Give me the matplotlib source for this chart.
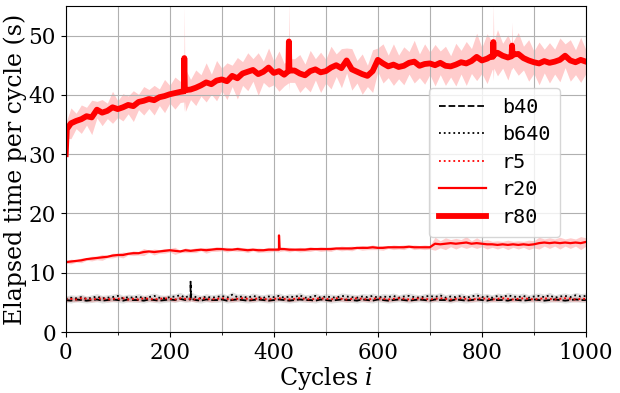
import numpy as np
import matplotlib
matplotlib.use('Agg')
import matplotlib.pyplot as plt
from matplotlib.ticker import MultipleLocator

CYCLES = list(range(0, 1001, 10))

R80 = [30.0, 35.2, 35.6, 35.9, 36.4, 36.2, 37.5, 37.0, 37.3, 37.9,
       37.6, 37.9, 38.3, 38.1, 38.8, 39.0, 39.3, 39.1, 39.6, 39.8,
       40.1, 40.3, 40.5, 40.8, 40.9, 41.2, 41.6, 42.1, 41.8, 42.4,
       42.6, 42.3, 43.2, 42.8, 43.6, 43.9, 44.2, 43.5, 43.9, 44.6,
       43.7, 44.0, 43.4, 44.2, 44.1, 43.6, 43.3, 44.0, 44.3, 43.8,
       44.0, 44.6, 45.0, 44.5, 45.8, 44.3, 43.9, 43.5, 43.2, 44.0,
       45.9, 45.3, 44.8, 45.1, 44.7, 44.9, 45.4, 45.6, 44.9, 45.2,
       45.3, 45.0, 45.4, 44.9, 44.8, 45.1, 45.5, 45.3, 45.7, 46.4,
       45.8, 46.1, 46.6, 47.1, 46.6, 46.3, 46.8, 46.9, 46.2, 45.8,
       45.5, 45.3, 45.7, 45.4, 45.6, 45.9, 46.6, 45.8, 45.5, 45.9,
       45.6]
R80_STD = [1.0, 2.6, 1.3, 2.4, 1.5, 2.9, 1.4, 2.2, 1.3, 2.7,
           1.4, 2.3, 1.5, 2.6, 1.3, 2.4, 1.6, 2.5, 1.4, 2.8,
           1.5, 2.7, 1.8, 3.6, 1.7, 3.0, 1.8, 3.3, 1.7, 3.4,
           1.9, 3.1, 1.8, 3.5, 2.0, 3.2, 1.9, 3.6, 1.8, 3.3,
           2.0, 3.4, 1.9, 3.6, 2.0, 3.2, 1.9, 3.5, 1.8, 3.4,
           2.0, 3.6, 1.9, 3.3, 2.1, 3.5, 1.9, 3.4, 1.8, 3.6,
           2.0, 3.3, 1.9, 3.5, 2.0, 3.2, 1.9, 3.6, 2.0, 3.4,
           1.9, 3.5, 2.0, 3.3, 1.8, 3.6, 2.0, 3.7, 2.1, 4.0,
           2.2, 4.2, 2.3, 3.9, 2.1, 3.8, 2.2, 3.6, 2.0, 3.5,
           1.9, 3.6, 2.0, 3.4, 2.1, 3.7, 2.0, 3.5, 2.1, 3.8,
           2.0]
# narrow single-cycle excursions of r80
R80_EXTRA_CYCLES = [2, 227, 228, 229, 428, 429, 430, 821, 822, 823, 857, 858, 859]
R80_EXTRA = [34.2, 40.6, 46.2, 40.7, 44.0, 49.0, 44.1, 46.4, 48.9, 46.7, 46.5, 48.3, 46.7]
R80_EXTRA_STD = [1.5, 1.8, 9.0, 1.8, 2.0, 7.0, 2.0, 2.2, 6.5, 2.2, 2.1, 4.0, 2.1]

R20 = [11.8, 11.9, 12.0, 12.1, 12.3, 12.4, 12.5, 12.6, 12.7, 12.9,
       13.0, 13.0, 13.2, 13.3, 13.3, 13.5, 13.6, 13.5, 13.6, 13.7,
       13.8, 13.7, 13.6, 13.8, 13.7, 13.8, 13.9, 13.8, 13.9, 14.0,
       14.0, 13.9, 13.9, 14.0, 13.9, 13.8, 13.9, 13.8, 13.8, 13.9,
       13.9, 13.9, 14.0, 13.9, 13.9, 13.9, 13.9, 14.0, 14.0, 14.0,
       14.0, 14.0, 14.1, 14.1, 14.1, 14.1, 14.2, 14.2, 14.2, 14.3,
       14.2, 14.2, 14.3, 14.3, 14.3, 14.3, 14.4, 14.3, 14.3, 14.3,
       14.3, 14.9, 14.8, 14.9, 15.0, 14.9, 15.0, 15.1, 14.9, 15.0,
       14.9, 14.8, 14.8, 14.7, 14.8, 14.7, 14.8, 14.7, 14.8, 14.7,
       14.8, 15.0, 15.1, 15.0, 15.1, 15.0, 15.1, 15.0, 15.1, 15.0,
       15.2]
R20_STD = [0.2, 0.4, 0.2, 0.4, 0.2, 0.4, 0.3, 0.5, 0.2, 0.4,
           0.3, 0.5, 0.2, 0.4, 0.3, 0.6, 0.2, 0.5, 0.3, 0.4,
           0.3, 0.6, 0.2, 0.4, 0.3, 0.4, 0.2, 0.5, 0.3, 0.4,
           0.3, 0.4, 0.2, 0.4, 0.3, 0.4, 0.2, 0.4, 0.3, 0.4,
           0.3, 0.5, 0.3, 0.4, 0.2, 0.4, 0.3, 0.4, 0.2, 0.4,
           0.3, 0.4, 0.2, 0.4, 0.3, 0.4, 0.2, 0.4, 0.3, 0.4,
           0.3, 0.4, 0.2, 0.4, 0.3, 0.4, 0.2, 0.4, 0.3, 0.4,
           0.3, 1.1, 0.6, 1.0, 0.6, 0.9, 0.6, 1.0, 0.5, 0.9,
           0.5, 0.8, 0.5, 0.7, 0.5, 0.8, 0.5, 0.7, 0.5, 0.8,
           0.6, 1.0, 0.6, 0.9, 0.6, 1.0, 0.6, 0.9, 0.6, 1.1,
           0.7]
R20_EXTRA_CYCLES = [409, 410, 411]
R20_EXTRA = [13.9, 16.3, 14.0]
R20_EXTRA_STD = [0.4, 1.8, 0.4]

B40 = [5.4, 5.3, 5.5, 5.4, 5.3, 5.4, 5.5, 5.3, 5.4, 5.5,
       5.4, 5.3, 5.5, 5.4, 5.4, 5.3, 5.5, 5.4, 5.3, 5.4,
       5.5, 5.4, 5.6, 5.4, 5.5, 5.4, 5.3, 5.5, 5.4, 5.4,
       5.5, 5.3, 5.4, 5.5, 5.4, 5.3, 5.4, 5.5, 5.4, 5.3,
       5.4, 5.5, 5.4, 5.3, 5.4, 5.5, 5.4, 5.4, 5.3, 5.5,
       5.4, 5.3, 5.4, 5.5, 5.4, 5.4, 5.3, 5.5, 5.4, 5.3,
       5.5, 5.4, 5.3, 5.4, 5.5, 5.4, 5.3, 5.4, 5.5, 5.4,
       5.3, 5.5, 5.4, 5.4, 5.3, 5.5, 5.4, 5.3, 5.4, 5.5,
       5.4, 5.3, 5.5, 5.4, 5.4, 5.3, 5.5, 5.4, 5.3, 5.4,
       5.5, 5.4, 5.3, 5.4, 5.5, 5.4, 5.3, 5.4, 5.5, 5.4,
       5.4]
B40_EXTRA_CYCLES = [239, 240, 241]
B40_EXTRA = [5.5, 8.5, 5.6]
B40_STD = 0.4

B640 = [5.6, 5.8, 5.7, 5.9, 5.6, 5.8, 6.0, 5.7, 5.8, 5.9,
        6.1, 5.7, 5.9, 5.8, 6.0, 5.7, 5.9, 6.1, 5.8, 5.7,
        5.9, 6.0, 6.2, 5.8, 6.3, 5.9, 5.7, 6.0, 5.8, 5.9,
        6.1, 5.8, 6.3, 5.9, 6.0, 5.8, 6.1, 5.9, 5.8, 6.0,
        5.9, 6.1, 5.8, 6.0, 5.9, 6.2, 5.8, 5.9, 6.1, 5.8,
        6.0, 5.9, 5.8, 6.1, 6.0, 5.9, 5.8, 6.0, 5.9, 6.1,
        5.8, 6.0, 5.9, 6.1, 5.8, 6.0, 6.1, 5.9, 5.8, 6.0,
        6.1, 5.9, 6.2, 5.8, 6.0, 5.9, 6.1, 5.8, 6.0, 6.2,
        5.9, 6.0, 5.8, 6.1, 5.9, 6.2, 6.0, 5.9, 6.1, 5.8,
        6.0, 6.1, 5.9, 6.2, 5.8, 6.0, 6.1, 5.9, 6.2, 6.0,
        6.1]
B640_STD = 0.5

R5 = [5.5, 5.6, 5.5, 5.7, 5.6, 5.5, 5.6, 5.7, 5.5, 5.6,
      5.6, 5.7, 5.5, 5.6, 5.5, 5.7, 5.6, 5.5, 5.6, 5.7,
      5.6, 5.5, 5.7, 5.6, 5.6, 5.5, 5.7, 5.6, 5.5, 5.6,
      5.7, 5.6, 5.5, 5.6, 5.7, 5.6, 5.5, 5.7, 5.6, 5.5,
      5.6, 5.7, 5.6, 5.5, 5.6, 5.7, 5.6, 5.5, 5.6, 5.7,
      5.6, 5.5, 5.7, 5.6, 5.5, 5.6, 5.7, 5.6, 5.5, 5.6,
      5.7, 5.6, 5.5, 5.6, 5.7, 5.6, 5.5, 5.6, 5.7, 5.6,
      5.5, 5.6, 5.7, 5.6, 5.5, 5.6, 5.7, 5.6, 5.5, 5.6,
      5.7, 5.6, 5.5, 5.6, 5.7, 5.6, 5.5, 5.6, 5.7, 5.6,
      5.5, 5.6, 5.7, 5.6, 5.5, 5.6, 5.7, 5.6, 5.5, 5.6,
      5.6]
R5_STD = 0.4

plt.rcParams['font.family'] = 'DejaVu Serif'
plt.rcParams['mathtext.fontset'] = 'dejavuserif'

fig, ax = plt.subplots(figsize=(6.2, 3.93), dpi=100)
fig.subplots_adjust(left=0.106, right=0.945, bottom=0.155, top=0.985)


def merge(ys, std, extra_x=(), extra_y=(), extra_std=None):
    # put the single-cycle points in among the 10-cycle samples
    n = len(CYCLES)
    std = list(std) if np.ndim(std) else [std] * n
    if extra_std is None:
        extra_std = [std[0]] * len(extra_x)
    x = np.array(list(CYCLES) + list(extra_x), dtype=float)
    y = np.array(list(ys) + list(extra_y), dtype=float)
    s = np.array(std + list(extra_std), dtype=float)
    order = np.argsort(x, kind='stable')
    return x[order], y[order], s[order]


series = [
    (merge(B40, B40_STD, B40_EXTRA_CYCLES, B40_EXTRA), 'black', 0.12,
     dict(linestyle='--', linewidth=1.3, label='b40')),
    (merge(B640, B640_STD), 'black', 0.12,
     dict(linestyle=':', linewidth=1.3, label='b640')),
    (merge(R5, R5_STD), 'red', 0.15,
     dict(linestyle=':', linewidth=1.3, label='r5')),
    (merge(R20, R20_STD, R20_EXTRA_CYCLES, R20_EXTRA, R20_EXTRA_STD), 'red', 0.2,
     dict(linestyle='-', linewidth=1.6, label='r20')),
    (merge(R80, R80_STD, R80_EXTRA_CYCLES, R80_EXTRA, R80_EXTRA_STD), 'red', 0.2,
     dict(linestyle='-', linewidth=4.2, label='r80')),
]

for (x, y, s), color, alpha, kw in series:
    ax.fill_between(x, y - s, y + s, color=color, alpha=alpha, lw=0)
for (x, y, s), color, alpha, kw in series:
    ax.plot(x, y, color=color, **kw)

ax.set_xlim(0, 1000)
ax.set_ylim(0, 55)
ax.xaxis.set_major_locator(MultipleLocator(200))
ax.xaxis.set_minor_locator(MultipleLocator(100))
ax.yaxis.set_major_locator(MultipleLocator(10))
ax.grid(True, which='both', axis='x', color='#b0b0b0', linewidth=0.8)
ax.grid(True, which='major', axis='y', color='#b0b0b0', linewidth=0.8)
ax.tick_params(labelsize=15.5)

ax.set_xlabel('Cycles $i$', fontsize=17, labelpad=1)
ax.set_ylabel('Elapsed time per cycle (s)', fontsize=17, labelpad=1)

ax.legend(loc='upper right', bbox_to_anchor=(0.97, 0.78),
          prop={'family': 'DejaVu Sans Mono', 'size': 14.5},
          handlelength=2.3, labelspacing=0.42, borderpad=0.5)

fig.savefig('out.png', dpi=100)
